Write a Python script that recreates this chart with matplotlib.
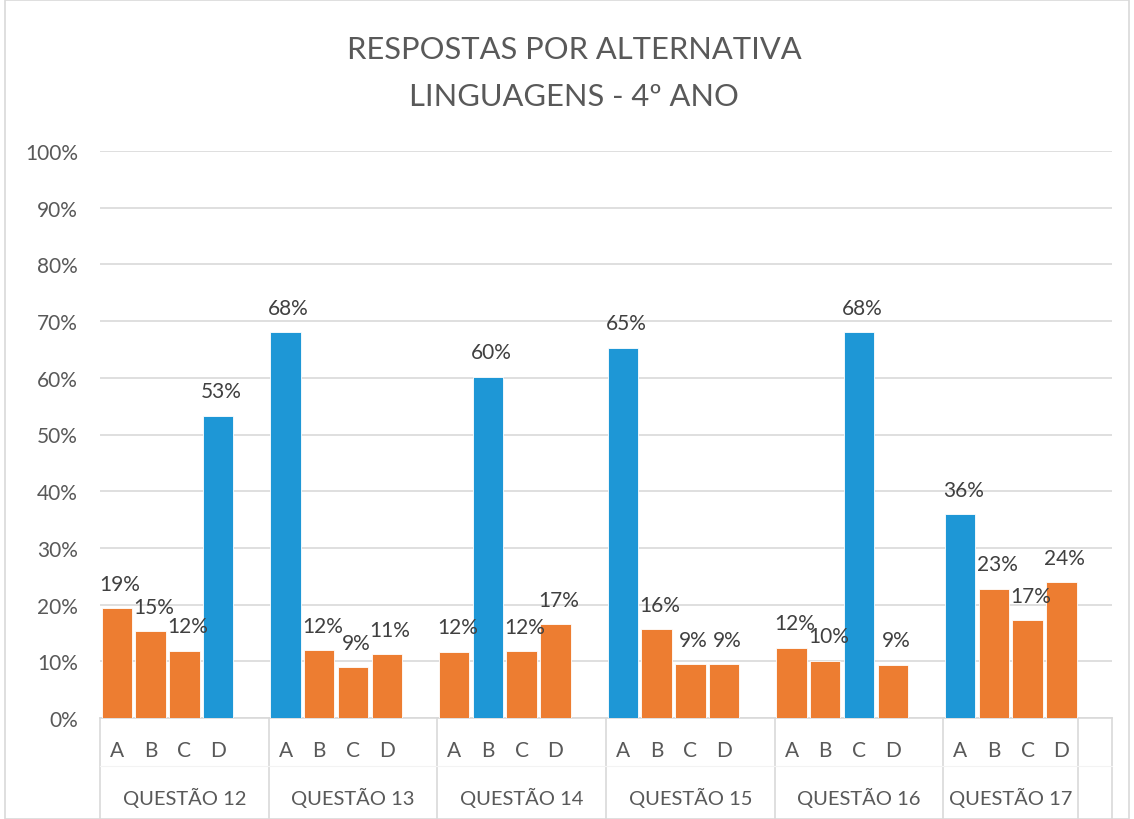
import matplotlib
matplotlib.use("Agg")
import matplotlib.pyplot as plt
from matplotlib.patches import Rectangle

plt.rcParams['font.family'] = ['Lato', 'DejaVu Sans']

questions = ["QUESTÃO 12", "QUESTÃO 13", "QUESTÃO 14", "QUESTÃO 15", "QUESTÃO 16", "QUESTÃO 17"]
letters = ["A", "B", "C", "D"]
values = [
    [19.4, 15.3, 11.9, 53.3],
    [68.0, 12.0, 9.0, 11.2],
    [11.7, 60.2, 11.8, 16.5],
    [65.3, 15.7, 9.5, 9.5],
    [12.4, 10.1, 68.1, 9.4],
    [35.9, 22.8, 17.3, 23.9],
]
correct = ["D", "A", "B", "A", "C", "A"]
labels = [
    ["19%", "15%", "12%", "53%"],
    ["68%", "12%", "9%", "11%"],
    ["12%", "60%", "12%", "17%"],
    ["65%", "16%", "9%", "9%"],
    ["12%", "10%", "68%", "9%"],
    ["36%", "23%", "17%", "24%"],
]
yticks = [0, 10, 20, 30, 40, 50, 60, 70, 80, 90, 100]

BLUE = "#1E97D6"
ORANGE = "#ED7D31"
TXT = "#595959"
GRID = "#D9D9D9"

W, H = 1134, 820
fig = plt.figure(figsize=(W / 100, H / 100), dpi=100)
fig.patch.set_facecolor("white")
# chart border
fig.add_artist(Rectangle((5 / W, 0), (W - 10) / W, 1 - 1 / H, transform=fig.transFigure,
                         fill=False, edgecolor=GRID, linewidth=1.2))

left, right, bottom, top = 100, 1112, 719, 152
ax = fig.add_axes([left / W, (H - bottom) / H, (right - left) / W, (bottom - top) / H])

nslots = 5 * len(questions)
ax.set_xlim(-0.5, nslots - 0.5)
ax.set_ylim(0, 100)

for g, q in enumerate(questions):
    for k, L in enumerate(letters):
        x = 5 * g + k
        v = values[g][k]
        col = BLUE if L == correct[g] else ORANGE
        ax.bar(x, v, width=0.9, color=col, edgecolor="white", linewidth=0.6, zorder=3)
        ax.annotate(labels[g][k], (x, v), xytext=(2.2, 17.5), textcoords="offset points",
                    ha="center", va="center", fontsize=15, color="#404040", zorder=4)
        ax.text(x, -0.057, L, transform=ax.get_xaxis_transform(), ha="center", va="center",
                fontsize=15, color=TXT)
    n_in_group = 5 if g < len(questions) - 1 else 4
    ax.text(5 * g + (n_in_group - 1) / 2, -0.139, q, transform=ax.get_xaxis_transform(),
            ha="center", va="center", fontsize=14.5, color=TXT)

# group separators
trans = ax.get_xaxis_transform()
bounds = [5 * g - 0.5 for g in range(len(questions))] + [5 * len(questions) - 1.5, nslots - 0.5]
for b in bounds:
    ax.plot([b, b], [0, -0.185], transform=trans, color=GRID, linewidth=1.2, clip_on=False)
ax.plot([-0.5, nslots - 0.5], [-0.0845, -0.0845], transform=trans, color="#F3F3F3",
        linewidth=0.8, clip_on=False)

ax.set_yticks(yticks)
ax.set_yticklabels([f"{t}%" for t in yticks], fontsize=15, color=TXT)
ax.tick_params(axis="y", length=0, pad=16)
ax.set_xticks([])
ax.grid(axis="y", color=GRID, linewidth=1.2, zorder=0)
ax.set_axisbelow(True)
for s in ["top", "right", "left"]:
    ax.spines[s].set_visible(False)
ax.spines["bottom"].set_color(GRID)
ax.spines["bottom"].set_linewidth(1.2)

fig.text(574 / W, 1 - 50 / H, "RESPOSTAS POR ALTERNATIVA", ha="center", va="center",
         fontsize=22.2, color=TXT)
fig.text(574 / W, 1 - 97 / H, "LINGUAGENS - 4º ANO", ha="center", va="center",
         fontsize=22.2, color=TXT)

fig.savefig("out.png", dpi=100, facecolor="white")
